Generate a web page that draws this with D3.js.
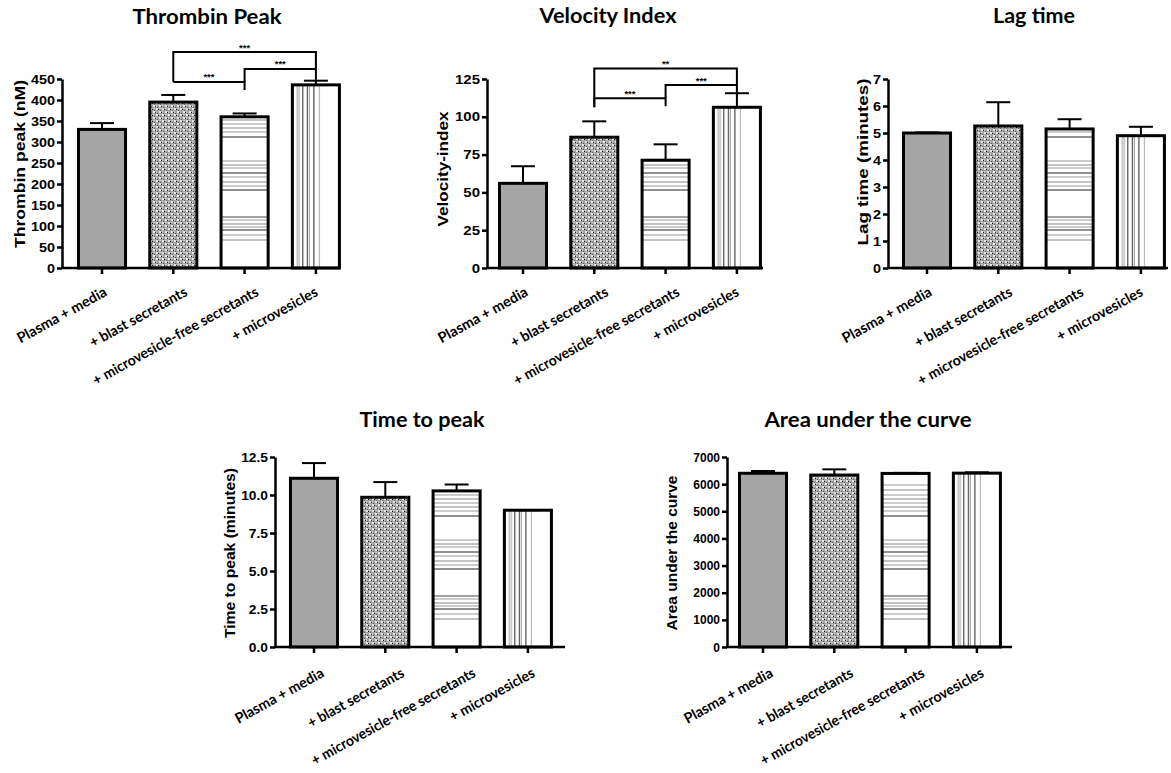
<!DOCTYPE html>
<html><head><meta charset="utf-8">
<script src="https://cdn.jsdelivr.net/npm/d3@7"></script>
<style>body{margin:0;background:#fff}</style></head>
<body>
<svg id="chart" width="1171" height="773"></svg>
<script>
// ---------- DATA ----------
const categories = ["Plasma + media", "+ blast secretants", "+ microvesicle-free secretants", "+ microvesicles"];

const thrombinPeak    = [330, 395, 360, 436];
const thrombinPeakSem = [15, 17, 8, 10];
const thrombinTicks   = [0, 50, 100, 150, 200, 250, 300, 350, 400, 450];
const thrombinBrackets = [
  {from: 1, to: 3, level: 514, leftEnd: 443, rightEnd: 448, label: "***"},
  {from: 2, to: 3, level: 474, leftEnd: 443, rightEnd: 474, label: "***"},
  {from: 1, to: 2, level: 443, leftEnd: 443, rightEnd: 424, label: "***"}
];

const velocityIndex    = [56, 86.5, 71.3, 106.3];
const velocityIndexSem = [11.3, 10.5, 10.5, 9.3];
const velocityTicks    = [0, 25, 50, 75, 100, 125];
const velocityBrackets = [
  {from: 1, to: 3, level: 132, leftEnd: 106.3, rightEnd: 116, label: "**"},
  {from: 2, to: 3, level: 121, leftEnd: 112.3, rightEnd: 121, label: "***"},
  {from: 1, to: 2, level: 112.3, leftEnd: 106.3, rightEnd: 107, label: "***"}
];

const lagTime    = [5.0, 5.26, 5.15, 4.9];
const lagTimeSem = [0.02, 0.88, 0.36, 0.33];
const lagTicks   = [0, 1, 2, 3, 4, 5, 6, 7];

const timeToPeak    = [11.1, 9.85, 10.27, 9.0];
const timeToPeakSem = [1.0, 1.0, 0.42, 0.0];
const timeToPeakTicks = [0, 2.5, 5, 7.5, 10, 12.5];

const auc      = [6400, 6335, 6395, 6405];
const aucSem   = [85, 210, 20, 30];
const aucTicks = [0, 1000, 2000, 3000, 4000, 5000, 6000, 7000];

// ---------- STYLE / LAYOUT ----------
const hLineStyle = [ // offsets above baseline (px), colour
  [28,"#888"],[33,"#999"],[38,"#222"],[41,"#999"],[44,"#888"],[48,"#999"],[51,"#444"],
  [78,"#222"],[82,"#999"],[86,"#888"],[91,"#999"],[95,"#222"],[100,"#999"],[103,"#888"],[107,"#999"],
  [131,"#222"],[136,"#999"],[140,"#888"],[144,"#999"],[148,"#888"],[152,"#999"],[157,"#888"],[162,"#999"]
];
const vLineStyle = [[5,"#999"],[7,"#aaa"],[10.5,"#222"],[15,"#333"],[17,"#999"],[21.5,"#222"],[27,"#aaa"]];
const labelShift = [-4, 5, 5, -7];
const labelLen = [100, 109, 187, 96];

const panels = [
  {title: "Thrombin Peak", yTitle: "Thrombin peak (nM)", values: thrombinPeak, sem: thrombinPeakSem,
   ticks: thrombinTicks, fmt: d3.format("d"), brackets: thrombinBrackets,
   x: 62, y: 79, w: 278, h: 189, off: 40, titleX: 207, titleY: 24, titleW: 149,
   ytX: 20, ytY: 164, ytLen: 168, tickK: 1.2, lblDx: 10, lblDy: 27, lblK: 1},
  {title: "Velocity Index", yTitle: "Velocity-index", values: velocityIndex, sem: velocityIndexSem,
   ticks: velocityTicks, fmt: d3.format("d"), brackets: velocityBrackets,
   x: 487, y: 79, w: 276, h: 189, off: 36, titleX: 608, titleY: 23, titleW: 137,
   ytX: 443, ytY: 169, ytLen: 115, tickK: 1.25, lblDx: 10, lblDy: 27, lblK: 1},
  {title: "Lag time", yTitle: "Lag time (minutes)", values: lagTime, sem: lagTimeSem,
   ticks: lagTicks, fmt: d3.format("d"), brackets: [],
   x: 888, y: 79, w: 280, h: 189, off: 39, titleX: 1034, titleY: 23, titleW: 82,
   ytX: 863, ytY: 162, ytLen: 167, tickK: 1.2, lblDx: 10, lblDy: 27, lblK: 1},
  {title: "Time to peak", yTitle: "Time to peak (minutes)", values: timeToPeak, sem: timeToPeakSem,
   ticks: timeToPeakTicks, fmt: d3.format(".1f"), brackets: [],
   x: 275, y: 457, w: 290, h: 190, off: 39, titleX: 422, titleY: 427, titleW: 125,
   ytX: 230, ytY: 553, ytLen: 170, tickK: 1.15, lblDx: 15, lblDy: 29, lblK: 0.99},
  {title: "Area under the curve", yTitle: "Area under the curve", values: auc, sem: aucSem,
   ticks: aucTicks, fmt: d3.format("d"), brackets: [],
   x: 727, y: 457, w: 285, h: 190, off: 36, titleX: 868, titleY: 427, titleW: 207,
   ytX: 672, ytY: 553, ytLen: 155, tickK: 1.0, lblDx: 15, lblDy: 29, lblK: 0.99}
];

const STEP = 71.3;
const svg = d3.select("#chart");
const defs = svg.append("defs");

function fitLen(sel, len) {
  sel.attr("textLength", len).attr("lengthAdjust", "spacingAndGlyphs");
}
function widen(sel, k) {
  sel.each(function () {
    const L = this.getComputedTextLength();
    d3.select(this).attr("textLength", L * k).attr("lengthAdjust", "spacingAndGlyphs");
  });
}

// stipple texture
const tex = defs.append("pattern").attr("id", "stipple")
  .attr("patternUnits", "userSpaceOnUse").attr("width", 6).attr("height", 6);
tex.append("rect").attr("width", 6).attr("height", 6).attr("fill", "#a2a2a2");
[[0,0,2,2,"#e6e6e6"],[3,3,2,2,"#e6e6e6"],[3,0,2,1,"#c8c8c8"],[0,3,1,2,"#c8c8c8"],
 [2,1,1,1,"#111"],[5,4,1,1,"#222"],[1,5,1,1,"#555"],[4,2,1,1,"#666"]]
  .forEach(([px, py, w, h, c]) => tex.append("rect").attr("x", px).attr("y", py)
    .attr("width", w).attr("height", h).attr("fill", c));

// vertical lines (relative to each bar)
const vp = defs.append("pattern").attr("id", "vlines")
  .attr("patternUnits", "objectBoundingBox").attr("width", 1).attr("height", 1);
vp.append("rect").attr("width", 300).attr("height", 400).attr("fill", "#fff");
vLineStyle.forEach(([dx, c]) => vp.append("line").attr("x1", dx).attr("x2", dx)
  .attr("y1", 0).attr("y2", 400).attr("stroke", c).attr("stroke-width", 1));

panels.forEach((p, i) => {
  const baseline = p.y + p.h;
  const hp = defs.append("pattern").attr("id", "hlines" + i)
    .attr("patternUnits", "userSpaceOnUse").attr("x", 0).attr("y", baseline - 400)
    .attr("width", 2000).attr("height", 400);
  hp.append("rect").attr("width", 2000).attr("height", 400).attr("fill", "#fff");
  hLineStyle.forEach(([o, c]) => hp.append("line").attr("x1", 0).attr("x2", 2000)
    .attr("y1", 400 - o).attr("y2", 400 - o).attr("stroke", c).attr("stroke-width", 1));

  const fills = ["#a5a5a5", "url(#stipple)", "url(#hlines" + i + ")", "url(#vlines)"];

  const yMax = p.ticks[p.ticks.length - 1];
  const y = d3.scaleLinear().domain([0, yMax]).range([baseline, p.y]);
  const start = p.x + p.off - STEP / 2;
  const x = d3.scaleBand().domain(categories).range([start, start + STEP * 4])
    .paddingInner(0.34).paddingOuter(0.17);

  const g = svg.append("g");

  g.selectAll("rect.bar").data(p.values).join("rect").attr("class", "bar")
    .attr("x", (d, k) => x(categories[k]))
    .attr("y", d => y(d))
    .attr("width", x.bandwidth())
    .attr("height", d => baseline - y(d))
    .attr("fill", (d, k) => fills[k])
    .attr("stroke", "#000").attr("stroke-width", 3);

  const eb = g.selectAll("g.err").data(p.values).join("g").attr("class", "err");
  eb.append("line")
    .attr("x1", (d, k) => x(categories[k]) + x.bandwidth() / 2)
    .attr("x2", (d, k) => x(categories[k]) + x.bandwidth() / 2)
    .attr("y1", d => y(d))
    .attr("y2", (d, k) => y(d + p.sem[k]))
    .attr("stroke", "#000").attr("stroke-width", 2);
  eb.append("line")
    .attr("x1", (d, k) => x(categories[k]) + x.bandwidth() / 2 - 12)
    .attr("x2", (d, k) => x(categories[k]) + x.bandwidth() / 2 + 12)
    .attr("y1", (d, k) => y(d + p.sem[k]))
    .attr("y2", (d, k) => y(d + p.sem[k]))
    .attr("stroke", "#000").attr("stroke-width", 2);

  const ya = g.append("g").attr("transform", `translate(${p.x},0)`)
    .call(d3.axisLeft(y).tickValues(p.ticks).tickFormat(p.fmt).tickSize(5).tickSizeOuter(0).tickPadding(2));
  ya.select(".domain").attr("stroke", "#000").attr("stroke-width", 2.5);
  ya.selectAll(".tick line").attr("stroke", "#000").attr("stroke-width", 2.5);
  ya.selectAll(".tick text").attr("font-family", "'Liberation Sans', Arial, sans-serif")
    .attr("font-weight", "bold").attr("font-size", 12.5).attr("fill", "#000");
  widen(ya.selectAll(".tick text"), p.tickK * 12 / 12.5);

  const xa = g.append("g").attr("transform", `translate(0,${baseline})`)
    .call(d3.axisBottom(x).tickSize(6).tickSizeOuter(0));
  xa.select(".domain").remove();
  xa.append("line").attr("x1", p.x - 1).attr("x2", p.x + p.w).attr("y1", 0).attr("y2", 0)
    .attr("stroke", "#000").attr("stroke-width", 2.5);
  xa.selectAll(".tick line").attr("stroke", "#000").attr("stroke-width", 2.5);
  xa.selectAll(".tick text")
    .attr("font-family", "Lato, 'Open Sans', sans-serif").attr("font-weight", "bold")
    .attr("font-size", 14.5).attr("fill", "#000")
    .attr("text-anchor", "end").attr("dy", null).attr("y", 0).attr("x", 0)
    .attr("transform", (d, k) => `translate(${p.lblDx + labelShift[k]},${p.lblDy}) rotate(-29)`)
    .attr("textLength", (d, k) => labelLen[k] * p.lblK)
    .attr("lengthAdjust", "spacingAndGlyphs");

  p.brackets.forEach(b => {
    const xL = x(categories[b.from]) + x.bandwidth() / 2;
    const xR = x(categories[b.to]) + x.bandwidth() / 2;
    g.append("path")
      .attr("d", `M${xL},${y(b.leftEnd)}V${y(b.level)}H${xR}V${y(b.rightEnd)}`)
      .attr("fill", "none").attr("stroke", "#000").attr("stroke-width", 2);
    g.append("text").attr("x", (xL + xR) / 2).attr("y", y(b.level) - 1.5)
      .attr("text-anchor", "middle").attr("font-family", "'Liberation Sans', Arial, sans-serif")
      .attr("font-weight", "bold").attr("font-size", 9.5).text(b.label);
  });

  const t = g.append("text").attr("x", p.titleX).attr("y", p.titleY).attr("text-anchor", "middle")
    .attr("font-family", "Lato, 'Open Sans', sans-serif").attr("font-weight", "bold")
    .attr("font-size", 20).attr("fill", "#000").text(p.title);
  fitLen(t, p.titleW);

  const yt = g.append("text").attr("transform", `translate(${p.ytX},${p.ytY}) rotate(-90)`)
    .attr("text-anchor", "middle").attr("dy", "0.35em")
    .attr("font-family", "'Liberation Sans', Arial, sans-serif").attr("font-weight", "bold")
    .attr("font-size", 15).attr("fill", "#000").text(p.yTitle);
  fitLen(yt, p.ytLen);
});
</script>
</body></html>
